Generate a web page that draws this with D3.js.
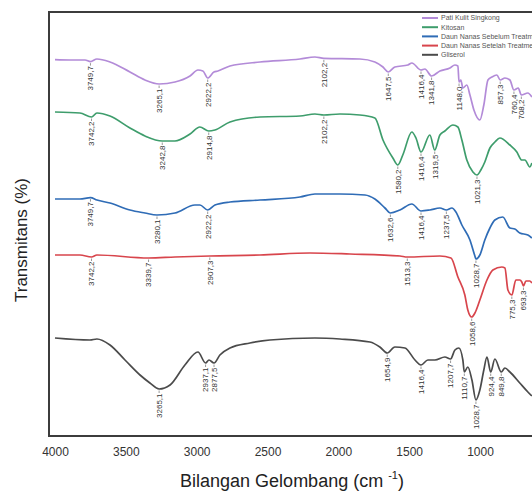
<!DOCTYPE html>
<html>
<head>
<meta charset="utf-8">
<script src="https://cdn.jsdelivr.net/npm/d3@7"></script>
<style>
body { margin: 0; background: #fff; }
text { font-family: "Liberation Sans", Arial, sans-serif; }
</style>
</head>
<body>
<div id="chart"></div>
<script>
// series names and colours (top to bottom)
const names = ["Pati Kulit Singkong", "Kitosan", "Daun Nanas Sebelum Treatment", "Daun Nanas Setelah Treatment", "Gliserol"];
const colors = ["#b38bd8", "#3e9d6c", "#2f6cb6", "#d8454c", "#4b4b4b"];

// [wavenumber, transmittance]
const patiKulit = [[4000,94.1],[3894,94],[3788,94],[3749.7,93.6],[3704,94.25],[3612,93.5],[3471,91],[3365,89],[3265.1,88],[3153,88.5],[3047,90],[2991,91.5],[2956,91.25],[2922.2,89.5],[2878,91],[2850,91.25],[2765,92.5],[2553,93.5],[2271,94.25],[2165,94.75],[2102.2,94.4],[1848,94.25],[1742,93.5],[1685,92.25],[1647.5,91],[1601,92.25],[1509,92.75],[1481,93.25],[1416.4,91.5],[1389,91.75],[1341.8,90],[1283,91.25],[1212,92],[1177,92.75],[1156,92.5],[1148.0,88.5],[1135,89],[1121,87],[1093,87.75],[1071,85.25],[1043,81.5],[1001,79],[973,82.75],[944,89],[916,89.75],[881,90.25],[857.3,89],[824,89.5],[789,89],[760.4,86.5],[730,87],[708.2,85.25],[662,85.75],[634,84.75]];
const kitosan = [[4000,81],[3824,80.75],[3742.2,79.75],[3704,80.75],[3612,80],[3471,77],[3365,75],[3242.8,73.75],[3153,73.75],[3047,75.5],[2977,77.25],[2914.8,76.25],[2871,76.5],[2765,78.5],[2553,79.75],[2271,80],[2165,80.5],[2102.2,80.25],[1989,80.5],[1848,80.25],[1742,79.5],[1685,74],[1615,69.5],[1580.2,67.75],[1545,70.25],[1481,76],[1452,74.5],[1416.4,71],[1354,75.25],[1319.5,71.5],[1283,75.25],[1248,76.25],[1191,77.75],[1156,77.25],[1128,74],[1093,69],[1050,66],[1021.3,65.25],[994,66.5],[966,68.5],[930,72],[895,73.5],[860,74.5],[789,72.75],[740,71],[705,69],[683,69],[648,67.25],[634,68.25]];
const nanasSebelum = [[4000,59.25],[3824,59.25],[3749.7,59.6],[3704,59],[3612,58.25],[3471,56.5],[3365,55.75],[3280.1,55.25],[3153,55.75],[3012,57.75],[2977,57.75],[2922.2,56.5],[2871,57.75],[2765,58.5],[2553,59],[2271,59.75],[2165,60.5],[1989,60.5],[1812,60.25],[1742,59.25],[1671,57],[1632.6,55.75],[1565,56.5],[1481,58],[1416.4,56.25],[1354,56.5],[1283,57],[1237.5,56.5],[1198,57],[1170,56],[1128,52.75],[1071,49],[1036,45],[1028.7,44.25],[1001,45.25],[966,49],[930,52],[895,54],[839,54.75],[789,52],[754,51.75],[719,50.75],[662,50.25],[634,49.5]];
const nanasSetelah = [[4000,45.25],[3824,45.25],[3742.2,44.75],[3704,45.25],[3339.7,44.5],[3153,44.75],[2907.3,45],[2553,45.25],[2200,45.75],[1918,45.5],[1565,45],[1513.3,44.75],[1283,45],[1205,44.5],[1156,39.75],[1107,35.25],[1086,31.5],[1058.6,29.75],[1036,30.75],[1001,34],[951,39],[909,41.5],[846,42.25],[824,42],[803,36.5],[775.3,35.25],[747,39],[719,39],[705,38.5],[693.3,37.5],[676,38.75],[648,38.75],[634,38.25]];
const gliserol = [[4000,24.5],[3753,24],[3704,24.25],[3612,22.75],[3506,19],[3400,15.25],[3330,13.25],[3265.1,11.75],[3188,12.75],[3083,17.75],[2991,21],[2937.1,18.25],[2913,19],[2877.5,18.25],[2836,20.25],[2765,22],[2624,23.25],[2483,24],[2165,24.5],[1989,24.25],[1777,23.5],[1707,22.25],[1654.9,20.75],[1601,22.25],[1530,22],[1459,19],[1416.4,17.75],[1368,19],[1318,19],[1248,19.75],[1207.7,19.25],[1177,21.5],[1149,22],[1121,19],[1110.7,16],[1086,17.25],[1057,14],[1028.7,9],[1001,11.5],[973,16.5],[951,19.75],[924.4,16],[895,19.25],[849.8,16],[824,17],[789,16],[719,13.25],[662,11],[634,10]];

// labelled peaks per series
const peaksPati = [3749.7, 3265.1, 2922.2, 2102.2, 1647.5, 1416.4, 1341.8, 1148.0, 857.3, 760.4, 708.2];
const peaksKitosan = [3742.2, 3242.8, 2914.8, 2102.2, 1580.2, 1416.4, 1319.5, 1021.3];
const peaksSebelum = [3749.7, 3280.1, 2922.2, 1632.6, 1416.4, 1237.5, 1028.7];
const peaksSetelah = [3742.2, 3339.7, 2907.3, 1513.3, 1058.6, 775.3, 693.3];
const peaksGliserol = [3265.1, 2937.1, 2877.5, 1654.9, 1416.4, 1207.7, 1110.7, 1028.7, 924.4, 849.8];

const xTicks = [4000, 3500, 3000, 2500, 2000, 1500, 1000];

const seriesData = [patiKulit, kitosan, nanasSebelum, nanasSetelah, gliserol];
const seriesPeaks = [peaksPati, peaksKitosan, peaksSebelum, peaksSetelah, peaksGliserol];

const width = 532, height = 495;
const svg = d3.select("#chart").append("svg").attr("width", width).attr("height", height);

const x = d3.scaleLinear().domain([4000, 400]).range([55, 565]);
const y = d3.scaleLinear().domain([0, 106]).range([436, 12]);

// frame (right side falls outside the picture)
svg.append("rect")
    .attr("x", 49).attr("y", 12)
    .attr("width", 540).attr("height", 424)
    .attr("fill", "none").attr("stroke", "#3c3c3c").attr("stroke-width", 2);

// x axis
const xAxis = svg.append("g")
    .attr("transform", "translate(0,436)")
    .call(d3.axisBottom(x).tickValues(xTicks).tickSize(0).tickPadding(11).tickFormat(d3.format("d")));
xAxis.select(".domain").remove();
xAxis.selectAll("text").attr("font-size", 12).attr("fill", "#333")
    .style("font-family", "'Liberation Sans', Arial, sans-serif");

// axis titles
const xt = svg.append("text")
    .attr("x", 292).attr("y", 487)
    .attr("text-anchor", "middle").attr("font-size", 18).attr("fill", "#222");
xt.append("tspan").text("Bilangan Gelombang (cm ");
xt.append("tspan").attr("font-size", 11).attr("dy", -8).text("-1");
xt.append("tspan").attr("dy", 8).text(")");

svg.append("text")
    .attr("transform", "translate(27,240) rotate(-90)")
    .attr("text-anchor", "middle").attr("font-size", 17).attr("fill", "#222")
    .text("Transmitans (%)");

// traces
const line = d3.line()
    .x(d => x(d[0]))
    .y(d => y(d[1]))
    .curve(d3.curveMonotoneX);

const clip = svg.append("clipPath").attr("id", "plotclip")
    .append("rect").attr("x", 50).attr("y", 13).attr("width", 540).attr("height", 422);

const fmt = d3.format(".1f");

seriesData.forEach((data, i) => {
    const g = svg.append("g");
    g.append("path")
        .datum(data)
        .attr("clip-path", "url(#plotclip)")
        .attr("d", line)
        .attr("fill", "none")
        .attr("stroke", colors[i])
        .attr("stroke-width", 1.7)
        .attr("stroke-linejoin", "round");

    seriesPeaks[i].forEach(w => {
        const p = data.find(d => d[0] === w);
        const px = x(p[0]), py = y(p[1]);
        g.append("line")
            .attr("x1", px).attr("x2", px)
            .attr("y1", py + 1.5).attr("y2", py + 4)
            .attr("stroke", "#555").attr("stroke-width", 0.6);
        g.append("text")
            .attr("transform", "translate(" + px + "," + (py + 4.5) + ") rotate(-90)")
            .attr("text-anchor", "end")
            .attr("dy", "0.35em")
            .attr("font-size", 8)
            .attr("fill", "#333")
            .text(fmt(w).replace(".", ","));
    });
});

// legend
const legend = svg.append("g");
names.forEach((n, i) => {
    const ly = 18 + i * 9.2;
    legend.append("line")
        .attr("x1", 422).attr("x2", 438)
        .attr("y1", ly).attr("y2", ly)
        .attr("stroke", colors[i]).attr("stroke-width", 2);
    legend.append("text")
        .attr("x", 441).attr("y", ly).attr("dy", "0.35em")
        .attr("font-size", 7).attr("fill", "#555")
        .text(n);
});
</script>
</body>
</html>
